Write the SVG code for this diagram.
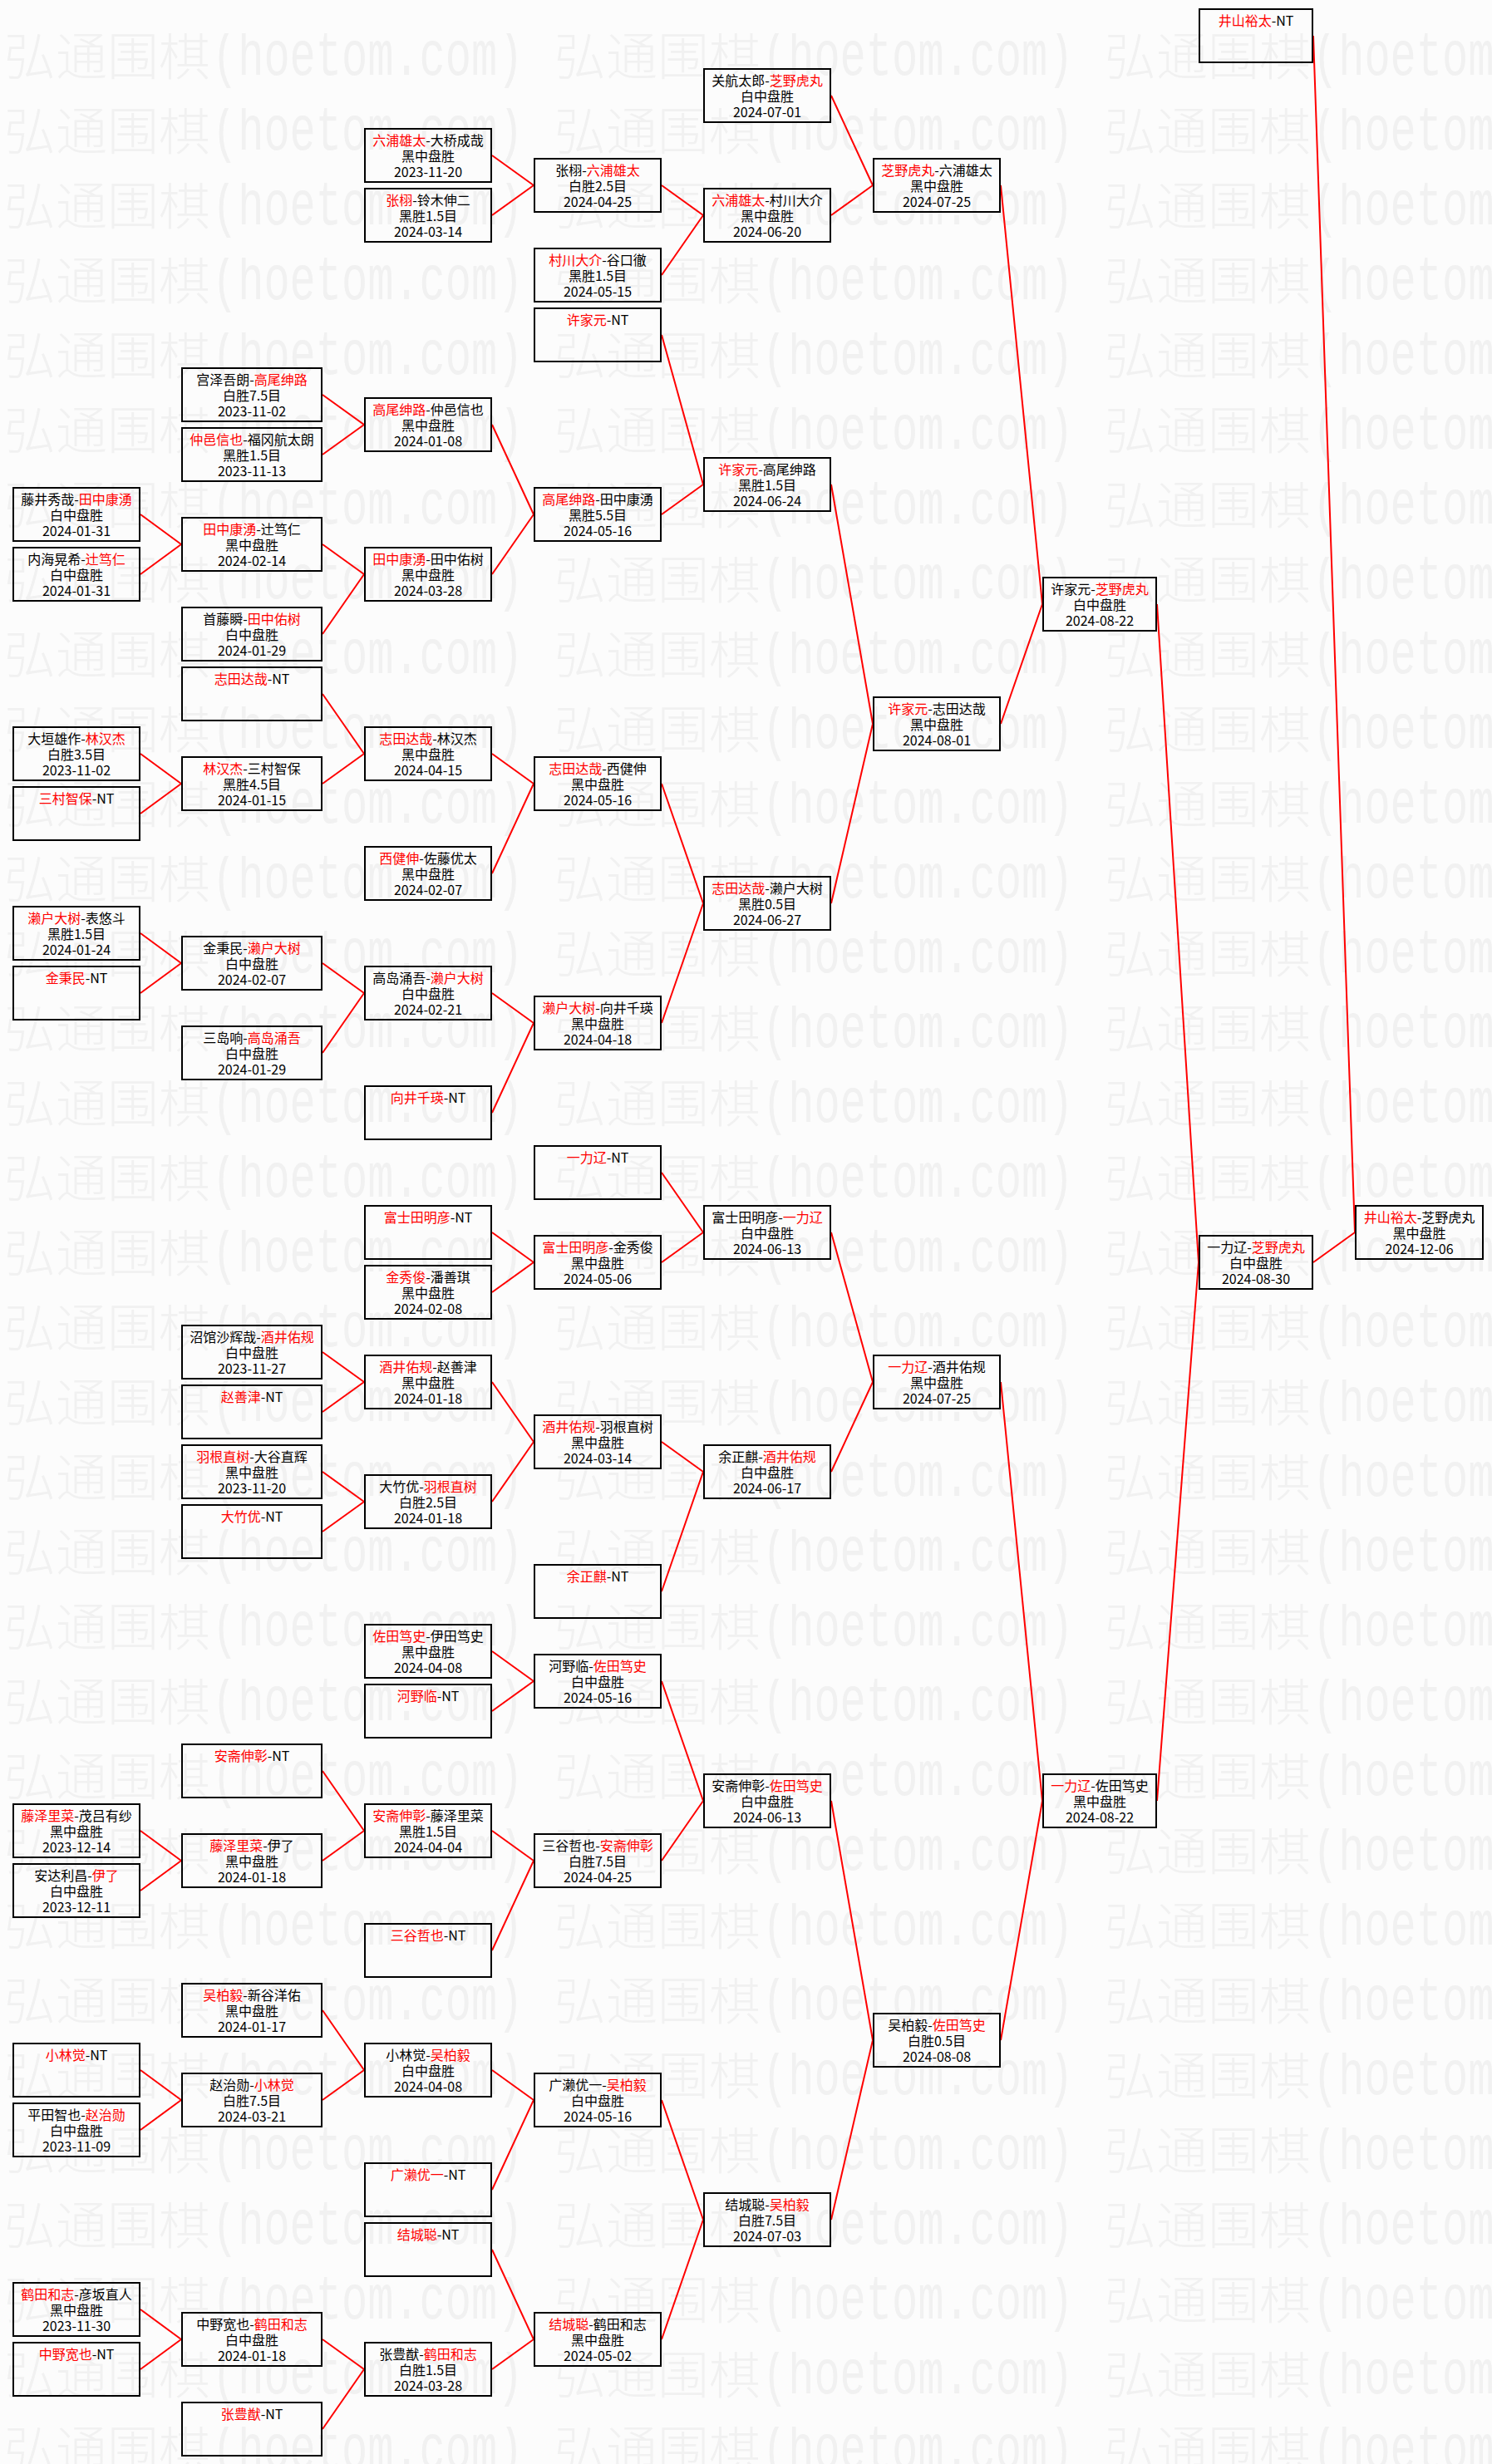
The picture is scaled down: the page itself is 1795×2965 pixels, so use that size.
<svg xmlns="http://www.w3.org/2000/svg" width="1795" height="2965" viewBox="0 0 1795 2965">
<style>
.b{fill:none;stroke:#000;stroke-width:2}
.t{font-family:"Noto Sans CJK SC","Noto Sans CJK JP",sans-serif;font-size:16px;fill:#000;text-anchor:middle}
.r{fill:#f00}
#connectors path{stroke:#f00;stroke-width:2;fill:none}
.wm{font-family:"Noto Sans CJK SC",sans-serif;font-size:62px;font-weight:300;fill:#f1f1f1}
.wl{font-family:"Liberation Mono",monospace;font-size:52px;fill:#f1f1f1}
</style>
<defs>
<pattern id="wmp" patternUnits="userSpaceOnUse" x="0" y="40" width="662" height="90">
<text class="wm" x="5" y="51">弘通围棋</text>
<text class="wl" transform="translate(255,50) scale(1,1.45)">(hoetom.com)</text>
</pattern>
</defs>
<rect width="1795" height="2965" fill="#fcfcfc"/>
<rect x="0" y="38" width="1795" height="2927" fill="url(#wmp)"/>
<g id="connectors">
<path d="M169 619L218 655M169 691L218 655M169 907L218 943M169 979L218 943M169 1123L218 1159M169 1195L218 1159M169 2203L218 2239M169 2275L218 2239M169 2491L218 2527M169 2563L218 2527M169 2779L218 2815M169 2851L218 2815"/>
<path d="M388 475L438 511M388 547L438 511M388 655L438 691M388 763L438 691M388 835L438 907M388 943L438 907M388 1159L438 1195M388 1267L438 1195M388 1627L438 1663M388 1699L438 1663M388 1771L438 1807M388 1843L438 1807M388 2131L438 2203M388 2239L438 2203M388 2419L438 2491M388 2527L438 2491M388 2815L438 2851M388 2923L438 2851"/>
<path d="M592 187L642 223M592 259L642 223M592 511L642 619M592 691L642 619M592 907L642 943M592 1051L642 943M592 1195L642 1231M592 1339L642 1231M592 1483L642 1519M592 1555L642 1519M592 1663L642 1735M592 1807L642 1735M592 1987L642 2023M592 2059L642 2023M592 2203L642 2239M592 2347L642 2239M592 2491L642 2527M592 2635L642 2527M592 2707L642 2815M592 2851L642 2815"/>
<path d="M796 223L846 259M796 331L846 259M796 403L846 583M796 619L846 583M796 943L846 1087M796 1231L846 1087M796 1411L846 1483M796 1519L846 1483M796 1735L846 1771M796 1915L846 1771M796 2023L846 2167M796 2239L846 2167M796 2527L846 2671M796 2815L846 2671"/>
<path d="M1000 115L1050 223M1000 259L1050 223M1000 583L1050 871M1000 1087L1050 871M1000 1483L1050 1663M1000 1771L1050 1663M1000 2167L1050 2455M1000 2671L1050 2455"/>
<path d="M1204 223L1254 727M1204 871L1254 727M1204 1663L1254 2167M1204 2455L1254 2167"/>
<path d="M1392 727L1442 1519M1392 2167L1442 1519"/>
<path d="M1580 43L1630 1483M1580 1519L1630 1483"/>
</g>
<g id="nodes">
<!-- Column A -->
<g id="a8" transform="translate(15,586)"><rect class="b" x="1" y="1" width="152" height="64"/><text class="t" x="77" y="21">藤井秀哉-<tspan class="r">田中康湧</tspan></text><text class="t" x="77" y="40">白中盘胜</text><text class="t" x="77" y="59">2024-01-31</text></g>
<g id="a9" transform="translate(15,658)"><rect class="b" x="1" y="1" width="152" height="64"/><text class="t" x="77" y="21">内海晃希-<tspan class="r">辻笃仁</tspan></text><text class="t" x="77" y="40">白中盘胜</text><text class="t" x="77" y="59">2024-01-31</text></g>
<g id="a12" transform="translate(15,874)"><rect class="b" x="1" y="1" width="152" height="64"/><text class="t" x="77" y="21">大垣雄作-<tspan class="r">林汉杰</tspan></text><text class="t" x="77" y="40">白胜3.5目</text><text class="t" x="77" y="59">2023-11-02</text></g>
<g id="a13" transform="translate(15,946)"><rect class="b" x="1" y="1" width="152" height="64"/><text class="t" x="77" y="21"><tspan class="r">三村智保</tspan>-NT</text></g>
<g id="a15" transform="translate(15,1090)"><rect class="b" x="1" y="1" width="152" height="64"/><text class="t" x="77" y="21"><tspan class="r">濑户大树</tspan>-表悠斗</text><text class="t" x="77" y="40">黑胜1.5目</text><text class="t" x="77" y="59">2024-01-24</text></g>
<g id="a16" transform="translate(15,1162)"><rect class="b" x="1" y="1" width="152" height="64"/><text class="t" x="77" y="21"><tspan class="r">金秉民</tspan>-NT</text></g>
<g id="a30" transform="translate(15,2170)"><rect class="b" x="1" y="1" width="152" height="64"/><text class="t" x="77" y="21"><tspan class="r">藤泽里菜</tspan>-茂吕有纱</text><text class="t" x="77" y="40">黑中盘胜</text><text class="t" x="77" y="59">2023-12-14</text></g>
<g id="a31" transform="translate(15,2242)"><rect class="b" x="1" y="1" width="152" height="64"/><text class="t" x="77" y="21">安达利昌-<tspan class="r">伊了</tspan></text><text class="t" x="77" y="40">白中盘胜</text><text class="t" x="77" y="59">2023-12-11</text></g>
<g id="a34" transform="translate(15,2458)"><rect class="b" x="1" y="1" width="152" height="64"/><text class="t" x="77" y="21"><tspan class="r">小林觉</tspan>-NT</text></g>
<g id="a35" transform="translate(15,2530)"><rect class="b" x="1" y="1" width="152" height="64"/><text class="t" x="77" y="21">平田智也-<tspan class="r">赵治勋</tspan></text><text class="t" x="77" y="40">白中盘胜</text><text class="t" x="77" y="59">2023-11-09</text></g>
<g id="a38" transform="translate(15,2746)"><rect class="b" x="1" y="1" width="152" height="64"/><text class="t" x="77" y="21"><tspan class="r">鹤田和志</tspan>-彦坂直人</text><text class="t" x="77" y="40">黑中盘胜</text><text class="t" x="77" y="59">2023-11-30</text></g>
<g id="a39" transform="translate(15,2818)"><rect class="b" x="1" y="1" width="152" height="64"/><text class="t" x="77" y="21"><tspan class="r">中野宽也</tspan>-NT</text></g>
<!-- Column B -->
<g id="b6" transform="translate(218,442)"><rect class="b" x="1" y="1" width="168" height="64"/><text class="t" x="85" y="21">宫泽吾朗-<tspan class="r">高尾绅路</tspan></text><text class="t" x="85" y="40">白胜7.5目</text><text class="t" x="85" y="59">2023-11-02</text></g>
<g id="b7" transform="translate(218,514)"><rect class="b" x="1" y="1" width="168" height="64"/><text class="t" x="85" y="21"><tspan class="r">仲邑信也</tspan>-福冈航太朗</text><text class="t" x="85" y="40">黑胜1.5目</text><text class="t" x="85" y="59">2023-11-13</text></g>
<g id="b8h" transform="translate(218,622)"><rect class="b" x="1" y="1" width="168" height="64"/><text class="t" x="85" y="21"><tspan class="r">田中康湧</tspan>-辻笃仁</text><text class="t" x="85" y="40">黑中盘胜</text><text class="t" x="85" y="59">2024-02-14</text></g>
<g id="b10" transform="translate(218,730)"><rect class="b" x="1" y="1" width="168" height="64"/><text class="t" x="85" y="21">首藤瞬-<tspan class="r">田中佑树</tspan></text><text class="t" x="85" y="40">白中盘胜</text><text class="t" x="85" y="59">2024-01-29</text></g>
<g id="b11" transform="translate(218,802)"><rect class="b" x="1" y="1" width="168" height="64"/><text class="t" x="85" y="21"><tspan class="r">志田达哉</tspan>-NT</text></g>
<g id="b12h" transform="translate(218,910)"><rect class="b" x="1" y="1" width="168" height="64"/><text class="t" x="85" y="21"><tspan class="r">林汉杰</tspan>-三村智保</text><text class="t" x="85" y="40">黑胜4.5目</text><text class="t" x="85" y="59">2024-01-15</text></g>
<g id="b15h" transform="translate(218,1126)"><rect class="b" x="1" y="1" width="168" height="64"/><text class="t" x="85" y="21">金秉民-<tspan class="r">濑户大树</tspan></text><text class="t" x="85" y="40">白中盘胜</text><text class="t" x="85" y="59">2024-02-07</text></g>
<g id="b17" transform="translate(218,1234)"><rect class="b" x="1" y="1" width="168" height="64"/><text class="t" x="85" y="21">三岛响-<tspan class="r">高岛涌吾</tspan></text><text class="t" x="85" y="40">白中盘胜</text><text class="t" x="85" y="59">2024-01-29</text></g>
<g id="b22" transform="translate(218,1594)"><rect class="b" x="1" y="1" width="168" height="64"/><text class="t" x="85" y="21">沼馆沙辉哉-<tspan class="r">酒井佑规</tspan></text><text class="t" x="85" y="40">白中盘胜</text><text class="t" x="85" y="59">2023-11-27</text></g>
<g id="b23" transform="translate(218,1666)"><rect class="b" x="1" y="1" width="168" height="64"/><text class="t" x="85" y="21"><tspan class="r">赵善津</tspan>-NT</text></g>
<g id="b24" transform="translate(218,1738)"><rect class="b" x="1" y="1" width="168" height="64"/><text class="t" x="85" y="21"><tspan class="r">羽根直树</tspan>-大谷直辉</text><text class="t" x="85" y="40">黑中盘胜</text><text class="t" x="85" y="59">2023-11-20</text></g>
<g id="b25" transform="translate(218,1810)"><rect class="b" x="1" y="1" width="168" height="64"/><text class="t" x="85" y="21"><tspan class="r">大竹优</tspan>-NT</text></g>
<g id="b29" transform="translate(218,2098)"><rect class="b" x="1" y="1" width="168" height="64"/><text class="t" x="85" y="21"><tspan class="r">安斋伸彰</tspan>-NT</text></g>
<g id="b30h" transform="translate(218,2206)"><rect class="b" x="1" y="1" width="168" height="64"/><text class="t" x="85" y="21"><tspan class="r">藤泽里菜</tspan>-伊了</text><text class="t" x="85" y="40">黑中盘胜</text><text class="t" x="85" y="59">2024-01-18</text></g>
<g id="b33" transform="translate(218,2386)"><rect class="b" x="1" y="1" width="168" height="64"/><text class="t" x="85" y="21"><tspan class="r">吴柏毅</tspan>-新谷洋佑</text><text class="t" x="85" y="40">黑中盘胜</text><text class="t" x="85" y="59">2024-01-17</text></g>
<g id="b34h" transform="translate(218,2494)"><rect class="b" x="1" y="1" width="168" height="64"/><text class="t" x="85" y="21">赵治勋-<tspan class="r">小林觉</tspan></text><text class="t" x="85" y="40">白胜7.5目</text><text class="t" x="85" y="59">2024-03-21</text></g>
<g id="b38h" transform="translate(218,2782)"><rect class="b" x="1" y="1" width="168" height="64"/><text class="t" x="85" y="21">中野宽也-<tspan class="r">鹤田和志</tspan></text><text class="t" x="85" y="40">白中盘胜</text><text class="t" x="85" y="59">2024-01-18</text></g>
<g id="b40" transform="translate(218,2890)"><rect class="b" x="1" y="1" width="168" height="64"/><text class="t" x="85" y="21"><tspan class="r">张豊猷</tspan>-NT</text></g>
<!-- Column C -->
<g id="c2" transform="translate(438,154)"><rect class="b" x="1" y="1" width="152" height="64"/><text class="t" x="77" y="21"><tspan class="r">六浦雄太</tspan>-大桥成哉</text><text class="t" x="77" y="40">黑中盘胜</text><text class="t" x="77" y="59">2023-11-20</text></g>
<g id="c3" transform="translate(438,226)"><rect class="b" x="1" y="1" width="152" height="64"/><text class="t" x="77" y="21"><tspan class="r">张栩</tspan>-铃木伸二</text><text class="t" x="77" y="40">黑胜1.5目</text><text class="t" x="77" y="59">2024-03-14</text></g>
<g id="c6h" transform="translate(438,478)"><rect class="b" x="1" y="1" width="152" height="64"/><text class="t" x="77" y="21"><tspan class="r">高尾绅路</tspan>-仲邑信也</text><text class="t" x="77" y="40">黑中盘胜</text><text class="t" x="77" y="59">2024-01-08</text></g>
<g id="c9" transform="translate(438,658)"><rect class="b" x="1" y="1" width="152" height="64"/><text class="t" x="77" y="21"><tspan class="r">田中康湧</tspan>-田中佑树</text><text class="t" x="77" y="40">黑中盘胜</text><text class="t" x="77" y="59">2024-03-28</text></g>
<g id="c12" transform="translate(438,874)"><rect class="b" x="1" y="1" width="152" height="64"/><text class="t" x="77" y="21"><tspan class="r">志田达哉</tspan>-林汉杰</text><text class="t" x="77" y="40">黑中盘胜</text><text class="t" x="77" y="59">2024-04-15</text></g>
<g id="c14" transform="translate(438,1018)"><rect class="b" x="1" y="1" width="152" height="64"/><text class="t" x="77" y="21"><tspan class="r">西健伸</tspan>-佐藤优太</text><text class="t" x="77" y="40">黑中盘胜</text><text class="t" x="77" y="59">2024-02-07</text></g>
<g id="c16" transform="translate(438,1162)"><rect class="b" x="1" y="1" width="152" height="64"/><text class="t" x="77" y="21">高岛涌吾-<tspan class="r">濑户大树</tspan></text><text class="t" x="77" y="40">白中盘胜</text><text class="t" x="77" y="59">2024-02-21</text></g>
<g id="c18" transform="translate(438,1306)"><rect class="b" x="1" y="1" width="152" height="64"/><text class="t" x="77" y="21"><tspan class="r">向井千瑛</tspan>-NT</text></g>
<g id="c20" transform="translate(438,1450)"><rect class="b" x="1" y="1" width="152" height="64"/><text class="t" x="77" y="21"><tspan class="r">富士田明彦</tspan>-NT</text></g>
<g id="c21" transform="translate(438,1522)"><rect class="b" x="1" y="1" width="152" height="64"/><text class="t" x="77" y="21"><tspan class="r">金秀俊</tspan>-潘善琪</text><text class="t" x="77" y="40">黑中盘胜</text><text class="t" x="77" y="59">2024-02-08</text></g>
<g id="c22h" transform="translate(438,1630)"><rect class="b" x="1" y="1" width="152" height="64"/><text class="t" x="77" y="21"><tspan class="r">酒井佑规</tspan>-赵善津</text><text class="t" x="77" y="40">黑中盘胜</text><text class="t" x="77" y="59">2024-01-18</text></g>
<g id="c24h" transform="translate(438,1774)"><rect class="b" x="1" y="1" width="152" height="64"/><text class="t" x="77" y="21">大竹优-<tspan class="r">羽根直树</tspan></text><text class="t" x="77" y="40">白胜2.5目</text><text class="t" x="77" y="59">2024-01-18</text></g>
<g id="c27" transform="translate(438,1954)"><rect class="b" x="1" y="1" width="152" height="64"/><text class="t" x="77" y="21"><tspan class="r">佐田笃史</tspan>-伊田笃史</text><text class="t" x="77" y="40">黑中盘胜</text><text class="t" x="77" y="59">2024-04-08</text></g>
<g id="c28" transform="translate(438,2026)"><rect class="b" x="1" y="1" width="152" height="64"/><text class="t" x="77" y="21"><tspan class="r">河野临</tspan>-NT</text></g>
<g id="c30" transform="translate(438,2170)"><rect class="b" x="1" y="1" width="152" height="64"/><text class="t" x="77" y="21"><tspan class="r">安斋伸彰</tspan>-藤泽里菜</text><text class="t" x="77" y="40">黑胜1.5目</text><text class="t" x="77" y="59">2024-04-04</text></g>
<g id="c32" transform="translate(438,2314)"><rect class="b" x="1" y="1" width="152" height="64"/><text class="t" x="77" y="21"><tspan class="r">三谷哲也</tspan>-NT</text></g>
<g id="c34" transform="translate(438,2458)"><rect class="b" x="1" y="1" width="152" height="64"/><text class="t" x="77" y="21">小林觉-<tspan class="r">吴柏毅</tspan></text><text class="t" x="77" y="40">白中盘胜</text><text class="t" x="77" y="59">2024-04-08</text></g>
<g id="c36" transform="translate(438,2602)"><rect class="b" x="1" y="1" width="152" height="64"/><text class="t" x="77" y="21"><tspan class="r">广濑优一</tspan>-NT</text></g>
<g id="c37" transform="translate(438,2674)"><rect class="b" x="1" y="1" width="152" height="64"/><text class="t" x="77" y="21"><tspan class="r">结城聪</tspan>-NT</text></g>
<g id="c39" transform="translate(438,2818)"><rect class="b" x="1" y="1" width="152" height="64"/><text class="t" x="77" y="21">张豊猷-<tspan class="r">鹤田和志</tspan></text><text class="t" x="77" y="40">白胜1.5目</text><text class="t" x="77" y="59">2024-03-28</text></g>
<!-- Column D -->
<g id="d2h" transform="translate(642,190)"><rect class="b" x="1" y="1" width="152" height="64"/><text class="t" x="77" y="21">张栩-<tspan class="r">六浦雄太</tspan></text><text class="t" x="77" y="40">白胜2.5目</text><text class="t" x="77" y="59">2024-04-25</text></g>
<g id="d4" transform="translate(642,298)"><rect class="b" x="1" y="1" width="152" height="64"/><text class="t" x="77" y="21"><tspan class="r">村川大介</tspan>-谷口徹</text><text class="t" x="77" y="40">黑胜1.5目</text><text class="t" x="77" y="59">2024-05-15</text></g>
<g id="d5" transform="translate(642,370)"><rect class="b" x="1" y="1" width="152" height="64"/><text class="t" x="77" y="21"><tspan class="r">许家元</tspan>-NT</text></g>
<g id="d8" transform="translate(642,586)"><rect class="b" x="1" y="1" width="152" height="64"/><text class="t" x="77" y="21"><tspan class="r">高尾绅路</tspan>-田中康湧</text><text class="t" x="77" y="40">黑胜5.5目</text><text class="t" x="77" y="59">2024-05-16</text></g>
<g id="d12h" transform="translate(642,910)"><rect class="b" x="1" y="1" width="152" height="64"/><text class="t" x="77" y="21"><tspan class="r">志田达哉</tspan>-西健伸</text><text class="t" x="77" y="40">黑中盘胜</text><text class="t" x="77" y="59">2024-05-16</text></g>
<g id="d16h" transform="translate(642,1198)"><rect class="b" x="1" y="1" width="152" height="64"/><text class="t" x="77" y="21"><tspan class="r">濑户大树</tspan>-向井千瑛</text><text class="t" x="77" y="40">黑中盘胜</text><text class="t" x="77" y="59">2024-04-18</text></g>
<g id="d19" transform="translate(642,1378)"><rect class="b" x="1" y="1" width="152" height="64"/><text class="t" x="77" y="21"><tspan class="r">一力辽</tspan>-NT</text></g>
<g id="d20h" transform="translate(642,1486)"><rect class="b" x="1" y="1" width="152" height="64"/><text class="t" x="77" y="21"><tspan class="r">富士田明彦</tspan>-金秀俊</text><text class="t" x="77" y="40">黑中盘胜</text><text class="t" x="77" y="59">2024-05-06</text></g>
<g id="d23h" transform="translate(642,1702)"><rect class="b" x="1" y="1" width="152" height="64"/><text class="t" x="77" y="21"><tspan class="r">酒井佑规</tspan>-羽根直树</text><text class="t" x="77" y="40">黑中盘胜</text><text class="t" x="77" y="59">2024-03-14</text></g>
<g id="d26" transform="translate(642,1882)"><rect class="b" x="1" y="1" width="152" height="64"/><text class="t" x="77" y="21"><tspan class="r">余正麒</tspan>-NT</text></g>
<g id="d27h" transform="translate(642,1990)"><rect class="b" x="1" y="1" width="152" height="64"/><text class="t" x="77" y="21">河野临-<tspan class="r">佐田笃史</tspan></text><text class="t" x="77" y="40">白中盘胜</text><text class="t" x="77" y="59">2024-05-16</text></g>
<g id="d30h" transform="translate(642,2206)"><rect class="b" x="1" y="1" width="152" height="64"/><text class="t" x="77" y="21">三谷哲也-<tspan class="r">安斋伸彰</tspan></text><text class="t" x="77" y="40">白胜7.5目</text><text class="t" x="77" y="59">2024-04-25</text></g>
<g id="d34h" transform="translate(642,2494)"><rect class="b" x="1" y="1" width="152" height="64"/><text class="t" x="77" y="21">广濑优一-<tspan class="r">吴柏毅</tspan></text><text class="t" x="77" y="40">白中盘胜</text><text class="t" x="77" y="59">2024-05-16</text></g>
<g id="d38h" transform="translate(642,2782)"><rect class="b" x="1" y="1" width="152" height="64"/><text class="t" x="77" y="21"><tspan class="r">结城聪</tspan>-鹤田和志</text><text class="t" x="77" y="40">黑中盘胜</text><text class="t" x="77" y="59">2024-05-02</text></g>
<!-- Column E -->
<g id="e1" transform="translate(846,82)"><rect class="b" x="1" y="1" width="152" height="64"/><text class="t" x="77" y="21">关航太郎-<tspan class="r">芝野虎丸</tspan></text><text class="t" x="77" y="40">白中盘胜</text><text class="t" x="77" y="59">2024-07-01</text></g>
<g id="e3" transform="translate(846,226)"><rect class="b" x="1" y="1" width="152" height="64"/><text class="t" x="77" y="21"><tspan class="r">六浦雄太</tspan>-村川大介</text><text class="t" x="77" y="40">黑中盘胜</text><text class="t" x="77" y="59">2024-06-20</text></g>
<g id="e7h" transform="translate(846,550)"><rect class="b" x="1" y="1" width="152" height="64"/><text class="t" x="77" y="21"><tspan class="r">许家元</tspan>-高尾绅路</text><text class="t" x="77" y="40">黑胜1.5目</text><text class="t" x="77" y="59">2024-06-24</text></g>
<g id="e14h" transform="translate(846,1054)"><rect class="b" x="1" y="1" width="152" height="64"/><text class="t" x="77" y="21"><tspan class="r">志田达哉</tspan>-濑户大树</text><text class="t" x="77" y="40">黑胜0.5目</text><text class="t" x="77" y="59">2024-06-27</text></g>
<g id="e20" transform="translate(846,1450)"><rect class="b" x="1" y="1" width="152" height="64"/><text class="t" x="77" y="21">富士田明彦-<tspan class="r">一力辽</tspan></text><text class="t" x="77" y="40">白中盘胜</text><text class="t" x="77" y="59">2024-06-13</text></g>
<g id="e24" transform="translate(846,1738)"><rect class="b" x="1" y="1" width="152" height="64"/><text class="t" x="77" y="21">余正麒-<tspan class="r">酒井佑规</tspan></text><text class="t" x="77" y="40">白中盘胜</text><text class="t" x="77" y="59">2024-06-17</text></g>
<g id="e29h" transform="translate(846,2134)"><rect class="b" x="1" y="1" width="152" height="64"/><text class="t" x="77" y="21">安斋伸彰-<tspan class="r">佐田笃史</tspan></text><text class="t" x="77" y="40">白中盘胜</text><text class="t" x="77" y="59">2024-06-13</text></g>
<g id="e36h" transform="translate(846,2638)"><rect class="b" x="1" y="1" width="152" height="64"/><text class="t" x="77" y="21">结城聪-<tspan class="r">吴柏毅</tspan></text><text class="t" x="77" y="40">白胜7.5目</text><text class="t" x="77" y="59">2024-07-03</text></g>
<!-- Column F -->
<g id="f2h" transform="translate(1050,190)"><rect class="b" x="1" y="1" width="152" height="64"/><text class="t" x="77" y="21"><tspan class="r">芝野虎丸</tspan>-六浦雄太</text><text class="t" x="77" y="40">黑中盘胜</text><text class="t" x="77" y="59">2024-07-25</text></g>
<g id="f11h" transform="translate(1050,838)"><rect class="b" x="1" y="1" width="152" height="64"/><text class="t" x="77" y="21"><tspan class="r">许家元</tspan>-志田达哉</text><text class="t" x="77" y="40">黑中盘胜</text><text class="t" x="77" y="59">2024-08-01</text></g>
<g id="f22h" transform="translate(1050,1630)"><rect class="b" x="1" y="1" width="152" height="64"/><text class="t" x="77" y="21"><tspan class="r">一力辽</tspan>-酒井佑规</text><text class="t" x="77" y="40">黑中盘胜</text><text class="t" x="77" y="59">2024-07-25</text></g>
<g id="f33h" transform="translate(1050,2422)"><rect class="b" x="1" y="1" width="152" height="64"/><text class="t" x="77" y="21">吴柏毅-<tspan class="r">佐田笃史</tspan></text><text class="t" x="77" y="40">白胜0.5目</text><text class="t" x="77" y="59">2024-08-08</text></g>
<!-- Column G -->
<g id="g9h" transform="translate(1254,694)"><rect class="b" x="1" y="1" width="136" height="64"/><text class="t" x="69" y="21">许家元-<tspan class="r">芝野虎丸</tspan></text><text class="t" x="69" y="40">白中盘胜</text><text class="t" x="69" y="59">2024-08-22</text></g>
<g id="g29h" transform="translate(1254,2134)"><rect class="b" x="1" y="1" width="136" height="64"/><text class="t" x="69" y="21"><tspan class="r">一力辽</tspan>-佐田笃史</text><text class="t" x="69" y="40">黑中盘胜</text><text class="t" x="69" y="59">2024-08-22</text></g>
<!-- Column H -->
<g id="h0" transform="translate(1442,10)"><rect class="b" x="1" y="1" width="136" height="64"/><text class="t" x="69" y="21"><tspan class="r">井山裕太</tspan>-NT</text></g>
<g id="h20h" transform="translate(1442,1486)"><rect class="b" x="1" y="1" width="136" height="64"/><text class="t" x="69" y="21">一力辽-<tspan class="r">芝野虎丸</tspan></text><text class="t" x="69" y="40">白中盘胜</text><text class="t" x="69" y="59">2024-08-30</text></g>
<!-- Column I -->
<g id="i20" transform="translate(1630,1450)"><rect class="b" x="1" y="1" width="153" height="64"/><text class="t" x="77.5" y="21"><tspan class="r">井山裕太</tspan>-芝野虎丸</text><text class="t" x="77.5" y="40">黑中盘胜</text><text class="t" x="77.5" y="59">2024-12-06</text></g>
</g>
</svg>
